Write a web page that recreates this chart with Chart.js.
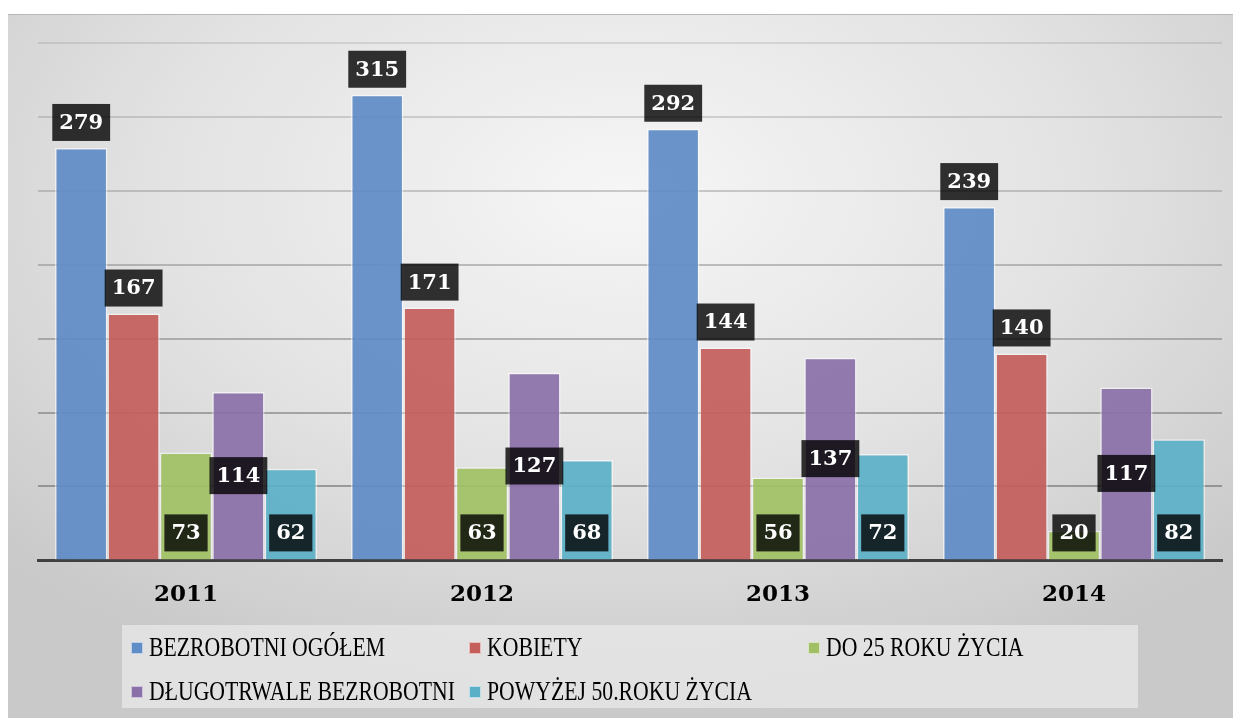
<!DOCTYPE html>
<html>
<head>
<meta charset="utf-8">
<script src="https://cdn.jsdelivr.net/npm/chart.js@4.4.1/dist/chart.umd.min.js"></script>
<style>
  body { margin: 0; background: #fff; }
  #wrap { position: relative; width: 1239px; height: 718px; overflow: hidden; background: #fff; }
  #panel {
    position: absolute; left: 8px; top: 14px; width: 1225px; height: 704px;
    border-top: 1px solid #b8b8b8;
    background: radial-gradient(ellipse 70% 75% at 50% 25%, #f6f6f6 0%, #e2e2e2 55%, #c9c9c9 100%);
  }
  #mycanvas { position: absolute; left: 0; top: 0; }
  #legend {
    position: absolute; left: 122px; top: 625px; width: 1016px; height: 83px;
    background: rgba(232,232,232,0.75);
  }
  .item { position: absolute; height: 30px; }
  .item .sq { position: absolute; left: 0; top: 10px; width: 10px; height: 10px; border: 1px solid rgba(255,255,255,0.6); }
  .item .txt {
    position: absolute; left: 18px; top: 0; white-space: nowrap;
    font-family: "Liberation Serif", serif; font-size: 28px; line-height: 30px; color: #000;
    transform-origin: 0 50%;
  }
</style>
</head>
<body>
<div id="wrap">
  <div id="panel"></div>
  <canvas id="mycanvas" width="1239" height="718"></canvas>
  <div id="legend"></div>
</div>
<script>
var years = ["2011", "2012", "2013", "2014"];
var seriesNames = ["BEZROBOTNI OGÓŁEM", "KOBIETY", "DO 25 ROKU ŻYCIA", "DŁUGOTRWALE BEZROBOTNI", "POWYŻEJ 50.ROKU ŻYCIA"];
var ogolem = [279, 315, 292, 239];
var kobiety = [167, 171, 144, 140];
var do25 = [73, 63, 56, 20];
var dlugotrwale = [114, 127, 137, 117];
var powyzej50 = [62, 68, 72, 82];
var colors = ["#5f8dc6", "#c45e5b", "#a1c065", "#8a6fa9", "#5bb0c8"];

var values = [ogolem, kobiety, do25, dlugotrwale, powyzej50];

// labels in dark boxes: above bar, centered, or near the base
var labelPos = ["top", "top", "base", "center", "base"];

var boxLabels = {
  id: "boxLabels",
  afterDatasetsDraw: function (chart) {
    var ctx = chart.ctx;
    ctx.save();
    ctx.font = "bold 21px 'DejaVu Serif'";
    ctx.textAlign = "center";
    ctx.textBaseline = "middle";
    chart.data.datasets.forEach(function (ds, di) {
      var meta = chart.getDatasetMeta(di);
      meta.data.forEach(function (bar, i) {
        var txt = String(ds.data[i]);
        var w = ctx.measureText(txt).width + 14;
        var h = 37;
        var cy;
        if (labelPos[di] == "top") cy = bar.y - 7 - h / 2;
        else if (labelPos[di] == "center") cy = (bar.y + bar.base) / 2;
        else cy = bar.base - 8 - h / 2;
        ctx.fillStyle = "rgba(0,0,0,0.8)";
        ctx.fillRect(bar.x - w / 2, cy - h / 2, w, h);
        ctx.fillStyle = "#fff";
        ctx.fillText(txt, bar.x, cy + 1);
      });
    });
    ctx.restore();
  }
};

var datasets = [];
for (var s = 0; s < seriesNames.length; s++) {
  datasets.push({
    label: seriesNames[s],
    data: values[s],
    backgroundColor: colors[s] + "ec",
    borderColor: "rgba(255,255,255,0.55)",
    borderWidth: 1.5,
    barPercentage: 1,
    categoryPercentage: 0.885
  });
}

var ctx = document.getElementById("mycanvas");
var chart = new Chart(ctx, {
  type: "bar",
  data: { labels: years, datasets: datasets },
  plugins: [boxLabels],
  options: {
    responsive: false,
    animation: false,
    layout: { padding: { left: 38, right: 17, top: 43, bottom: 96 } },
    plugins: { legend: { display: false }, tooltip: { enabled: false } },
    scales: {
      x: {
        grid: { display: false },
        border: { color: "#404040", width: 3 },
        ticks: { color: "#000", padding: 13, font: { family: "DejaVu Serif", size: 23, weight: "bold" } }
      },
      y: {
        min: 0, max: 350,
        ticks: { display: false, stepSize: 50 },
        border: { display: false },
        grid: {
          drawTicks: false,
          lineWidth: 2,
          color: function (c) {
            var v = c.tick ? c.tick.value : 0;
            return "rgba(120,120,120," + (0.75 - v / 350 * 0.55) + ")";
          }
        }
      }
    }
  }
});

// legend built from the series
var legend = document.getElementById("legend");
var colX = [9, 347, 686];
var rowY = [7, 51];
var m = document.createElement("canvas").getContext("2d");
m.font = "28px 'Liberation Serif'";
var scale = 236 / m.measureText(seriesNames[0]).width;
seriesNames.forEach(function (name, i) {
  var it = document.createElement("div");
  it.className = "item";
  it.style.left = colX[i % 3] + "px";
  it.style.top = rowY[Math.floor(i / 3)] + "px";
  it.innerHTML = '<div class="sq" style="background:' + colors[i] + '"></div><div class="txt" style="transform:scaleX(' + scale + ')">' + name + '</div>';
  legend.appendChild(it);
});
</script>
</body>
</html>
